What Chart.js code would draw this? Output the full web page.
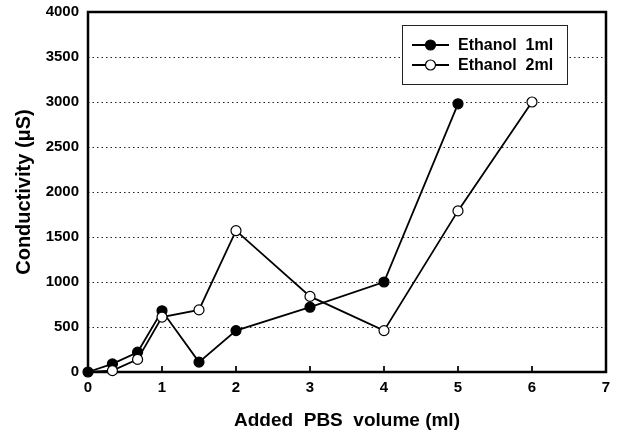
<!DOCTYPE html>
<html>
<head>
<meta charset="utf-8">
<script src="https://cdn.jsdelivr.net/npm/chart.js@4/dist/chart.umd.min.js"></script>
<style>
  html, body { margin: 0; padding: 0; background: #fff; }
  #wrap { width: 619px; height: 437px; }
</style>
</head>
<body>
<div id="wrap"><canvas id="c" width="619" height="437"></canvas></div>
<script>
// Added PBS volume (ml) for each measurement
const volume1 = [0, 0.33, 0.67, 1, 1.5, 2, 3, 4, 5];
const volume2 = [0, 0.33, 0.67, 1, 1.5, 2, 3, 4, 5, 6];
// Conductivity (µS)
const conductivity1 = [0, 90, 220, 680, 110, 460, 720, 1000, 2980];
const conductivity2 = [0, 15, 140, 610, 690, 1570, 840, 460, 1790, 3000];
const seriesNames = ['Ethanol  1ml', 'Ethanol  2ml'];
const xTicks = [0, 1, 2, 3, 4, 5, 6, 7];
const yTicks = [0, 500, 1000, 1500, 2000, 2500, 3000, 3500, 4000];

const FONT = '"Liberation Sans", Arial, Helvetica, sans-serif';

function pairs(xs, ys) { return xs.map((x, i) => ({ x: x, y: ys[i] })); }

// Dotted horizontal grid, inner ticks and the framing box
const framePlugin = {
  id: 'frame',
  beforeDatasetsDraw(chart) {
    const { ctx, chartArea: a, scales } = chart;
    ctx.save();
    ctx.strokeStyle = '#222';
    ctx.lineWidth = 1;
    ctx.setLineDash([1.5, 3]);
    yTicks.forEach(v => {
      if (v === 0 || v === 4000) return;
      const y = Math.round(scales.y.getPixelForValue(v)) + 0.5;
      ctx.beginPath(); ctx.moveTo(a.left, y); ctx.lineTo(a.right, y); ctx.stroke();
    });
    ctx.setLineDash([]);
    ctx.lineWidth = 2;
    xTicks.forEach(v => {
      if (v === 0 || v === 7) return;
      const x = scales.x.getPixelForValue(v);
      ctx.beginPath(); ctx.moveTo(x, a.bottom); ctx.lineTo(x, a.bottom - 6); ctx.stroke();
    });
    ctx.strokeStyle = '#000';
    ctx.lineWidth = 2.5;
    ctx.strokeRect(a.left, a.top, a.right - a.left, a.bottom - a.top);
    ctx.restore();
  },
  afterDraw(chart) {
    // Legend box inside the plot, upper right
    const { ctx } = chart;
    const bx = 402, by = 25, bw = 165, bh = 59;
    ctx.save();
    ctx.fillStyle = '#fff';
    ctx.fillRect(bx, by, bw, bh);
    ctx.strokeStyle = '#222';
    ctx.lineWidth = 1;
    ctx.strokeRect(bx + 0.5, by + 0.5, bw, bh);
    seriesNames.forEach((name, i) => {
      const ds = chart.data.datasets.find(d => d.label === name);
      const y = by + 20 + i * 20;
      ctx.strokeStyle = '#000';
      ctx.lineWidth = 1.8;
      ctx.beginPath(); ctx.moveTo(412, y); ctx.lineTo(449, y); ctx.stroke();
      ctx.beginPath(); ctx.arc(430.5, y, 5, 0, Math.PI * 2);
      ctx.fillStyle = ds.pointBackgroundColor;
      ctx.fill();
      ctx.lineWidth = 1.2;
      ctx.stroke();
      ctx.fillStyle = '#000';
      ctx.font = 'bold 16px ' + FONT;
      ctx.textBaseline = 'middle';
      ctx.fillText(name, 458, y + 1);
    });
    ctx.restore();
  }
};

new Chart(document.getElementById('c'), {
  type: 'scatter',
  data: {
    datasets: [
      {
        label: seriesNames[0],
        data: pairs(volume1, conductivity1),
        showLine: true,
        borderColor: '#000',
        borderWidth: 1.8,
        pointRadius: 5,
        pointBorderWidth: 1.2,
        pointBackgroundColor: '#000',
        pointBorderColor: '#000',
        order: 2
      },
      {
        label: seriesNames[1],
        data: pairs(volume2, conductivity2),
        showLine: true,
        borderColor: '#000',
        borderWidth: 1.8,
        // the shared origin point is shown by the filled series
        pointRadius: c => (c.dataIndex === 0 ? 0 : 5),
        pointBorderWidth: 1.2,
        pointBackgroundColor: '#fff',
        pointBorderColor: '#000',
        order: 1
      }
    ]
  },
  options: {
    responsive: false,
    animation: false,
    clip: false,
    layout: { padding: { left: 0, right: 13, top: 12, bottom: 0 } },
    plugins: { legend: { display: false }, tooltip: { enabled: false } },
    scales: {
      x: {
        type: 'linear',
        min: 0, max: 7,
        afterBuildTicks: s => { s.ticks = xTicks.map(v => ({ value: v })); },
        afterFit: s => { s.height = 65; s.paddingLeft = 0; s.paddingRight = 0; },
        grid: { display: false, drawTicks: false },
        border: { display: false },
        ticks: { color: '#000', font: { family: FONT, size: 15, weight: 'bold' }, padding: 7, maxRotation: 0,
                 callback: v => String(v) },
        title: { display: true, text: 'Added  PBS  volume (ml)', color: '#000', font: { family: FONT, size: 19, weight: 'bold' }, padding: { top: 10, bottom: 5 } }
      },
      y: {
        min: 0, max: 4000,
        afterBuildTicks: s => { s.ticks = yTicks.map(v => ({ value: v })); },
        afterFit: s => { s.width = 88; s.paddingTop = 0; s.paddingBottom = 0; },
        grid: { display: false, drawTicks: false },
        border: { display: false },
        ticks: { color: '#000', font: { family: FONT, size: 15, weight: 'bold' }, padding: 9,
                 callback: v => String(v) },
        title: { display: true, text: 'Conductivity (\u03bcS)', color: '#000', font: { family: FONT, size: 20, weight: 'bold' }, padding: { top: 12, bottom: 4 } }
      }
    }
  },
  plugins: [framePlugin]
});
</script>
</body>
</html>
